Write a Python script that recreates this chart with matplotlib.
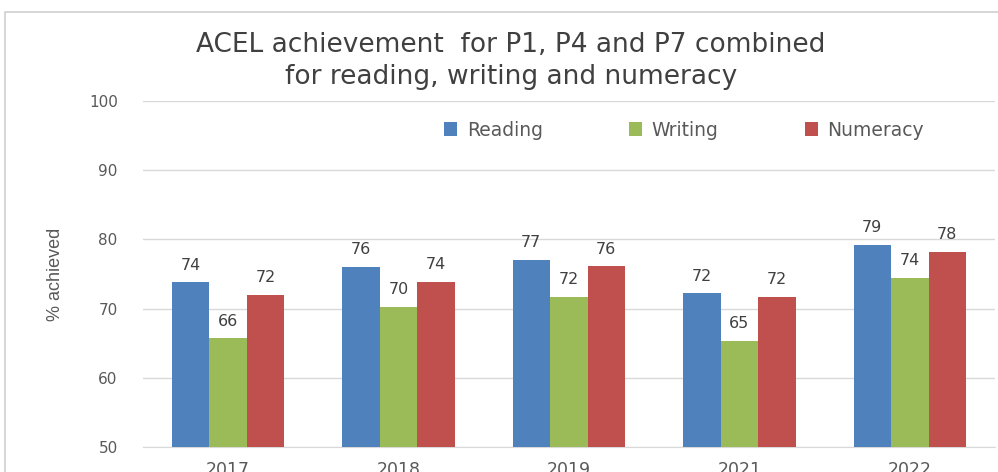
import matplotlib
matplotlib.use("Agg")
import matplotlib.pyplot as plt
import numpy as np
from matplotlib.patches import Rectangle

# data
years = ["2017", "2018", "2019", "2021", "2022"]
reading = [73.8, 76.0, 77.0, 72.2, 79.2]
writing = [65.7, 70.2, 71.7, 65.3, 74.4]
numeracy = [72.0, 73.9, 76.1, 71.7, 78.2]
reading_lbl = [74, 76, 77, 72, 79]
writing_lbl = [66, 70, 72, 65, 74]
numeracy_lbl = [72, 74, 76, 72, 78]
series_names = ["Reading", "Writing", "Numeracy"]
colors = ["#4F81BD", "#9BBB59", "#C0504D"]

fig = plt.figure(figsize=(9.98, 4.72), dpi=100)
ax = fig.add_axes([0.143, 0.053, 0.854, 0.733])

x = np.arange(len(years))
w = 0.22
series = [reading, writing, numeracy]
labels = [reading_lbl, writing_lbl, numeracy_lbl]
for i in range(3):
    bars = ax.bar(x + (i - 1) * w, series[i], w, color=colors[i],
                  label=series_names[i], zorder=3)
    for b, v, t in zip(bars, series[i], labels[i]):
        ax.annotate(str(t), (b.get_x() + b.get_width() / 2, v),
                    xytext=(0, 7), textcoords="offset points",
                    ha="center", va="bottom", fontsize=11.5, color="#404040")

ax.set_ylim(50, 100)
ax.set_xlim(-0.5, len(years) - 0.5)
ax.set_yticks([50, 60, 70, 80, 90, 100])
ax.set_xticks(x)
ax.set_xticklabels(years)
ax.yaxis.grid(True, color="#d9d9d9", linewidth=1, zorder=0)
for s in ["top", "right", "left"]:
    ax.spines[s].set_visible(False)
ax.spines["bottom"].set_color("#d9d9d9")
ax.tick_params(axis="both", length=0, labelcolor="#595959")
ax.tick_params(axis="y", pad=18, labelsize=11)
ax.tick_params(axis="x", pad=10, labelsize=12.5)

ax.set_ylabel("% achieved", fontsize=13, color="#595959",
              family="Liberation Sans", labelpad=18)

leg = ax.legend(loc="center", bbox_to_anchor=(0.635, 0.916), ncol=3,
                frameon=False, fontsize=13.5, handlelength=0.7, handleheight=0.7,
                columnspacing=4.6, handletextpad=0.5)
for t in leg.get_texts():
    t.set_color("#595959")

fig.text(0.512, 0.905, "ACEL achievement  for P1, P4 and P7 combined",
         ha="center", va="center", fontsize=19, color="#404040")
fig.text(0.512, 0.837, "for reading, writing and numeracy",
         ha="center", va="center", fontsize=19, color="#404040")

# outer chart frame (cropped on right and bottom)
fig.patches.append(Rectangle((5 / 998, -0.1), 1.1, 1 - 12 / 472 + 0.1,
                             transform=fig.transFigure, fill=False,
                             edgecolor="#d0d0d0", linewidth=1.2))

fig.savefig("out.png", dpi=100, facecolor="white")
